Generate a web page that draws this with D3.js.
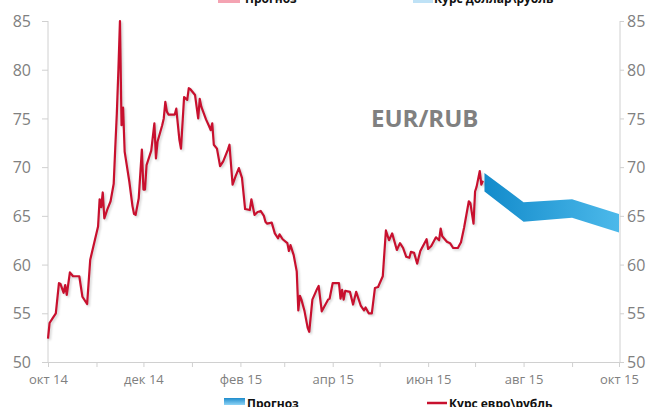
<!DOCTYPE html>
<html><head><meta charset="utf-8">
<script src="https://cdn.jsdelivr.net/npm/d3@7"></script>
<style>html,body{margin:0;padding:0;background:#fff;}svg{display:block;}</style>
</head><body>
<svg id="c" width="659" height="407"></svg>
<script>
// ---- data ----
const eurDates = ["2014-10-01","2014-10-02","2014-10-04","2014-10-06","2014-10-08","2014-10-09","2014-10-11","2014-10-12","2014-10-13","2014-10-15","2014-10-17","2014-10-21","2014-10-23","2014-10-26","2014-10-28","2014-11-02","2014-11-03","2014-11-04","2014-11-05","2014-11-06","2014-11-08","2014-11-10","2014-11-12","2014-11-13","2014-11-14","2014-11-15","2014-11-16","2014-11-17","2014-11-18","2014-11-19","2014-11-22","2014-11-24","2014-11-25","2014-11-26","2014-11-28","2014-11-30","2014-12-01","2014-12-02","2014-12-03","2014-12-06","2014-12-08","2014-12-09","2014-12-10","2014-12-13","2014-12-14","2014-12-15","2014-12-16","2014-12-17","2014-12-21","2014-12-22","2014-12-24","2014-12-25","2014-12-27","2014-12-29","2014-12-30","2014-12-31","2015-01-03","2015-01-05","2015-01-06","2015-01-07","2015-01-10","2015-01-12","2015-01-13","2015-01-14","2015-01-15","2015-01-17","2015-01-19","2015-01-21","2015-01-24","2015-01-25","2015-01-27","2015-01-29","2015-01-31","2015-02-02","2015-02-04","2015-02-07","2015-02-08","2015-02-10","2015-02-12","2015-02-14","2015-02-16","2015-02-17","2015-02-18","2015-02-21","2015-02-23","2015-02-25","2015-02-26","2015-02-28","2015-03-03","2015-03-04","2015-03-05","2015-03-07","2015-03-09","2015-03-10","2015-03-11","2015-03-12","2015-03-14","2015-03-16","2015-03-17","2015-03-19","2015-03-22","2015-03-23","2015-03-25","2015-03-29","2015-03-30","2015-04-01","2015-04-05","2015-04-06","2015-04-07","2015-04-08","2015-04-09","2015-04-12","2015-04-14","2015-04-16","2015-04-19","2015-04-21","2015-04-22","2015-04-24","2015-04-26","2015-04-28","2015-04-30","2015-05-03","2015-05-05","2015-05-07","2015-05-09","2015-05-12","2015-05-14","2015-05-16","2015-05-18","2015-05-20","2015-05-21","2015-05-23","2015-05-25","2015-05-27","2015-05-31","2015-06-01","2015-06-03","2015-06-06","2015-06-08","2015-06-09","2015-06-10","2015-06-13","2015-06-15","2015-06-17","2015-06-20","2015-06-22","2015-06-24","2015-06-27","2015-06-28","2015-06-30","2015-07-01","2015-07-02","2015-07-04","2015-07-05","2015-07-06"];
const eurValues = [52.4,54.0,54.5,55.0,58.1,58.0,57.1,57.9,56.9,59.2,58.8,58.8,56.7,55.95,60.5,63.9,66.7,65.9,67.4,64.75,65.7,66.5,68.3,72.0,75.5,80.0,85.0,74.3,76.1,71.6,68.5,66.0,65.2,65.1,66.8,71.8,67.7,67.7,70.2,71.7,74.5,70.9,72.6,74.3,75.0,76.7,75.7,75.4,75.4,76.0,72.8,71.9,77.2,76.9,78.1,78.0,77.4,75.0,77.0,76.2,74.9,74.2,73.8,74.5,72.3,71.9,70.1,70.6,71.8,72.3,68.2,69.1,69.9,68.9,65.7,65.6,66.7,65.1,65.4,65.5,65.0,64.4,64.2,64.3,63.2,62.7,63.1,62.6,62.2,61.4,62.0,61.0,59.3,55.3,56.8,56.4,55.2,53.5,53.1,56.4,57.5,57.8,55.2,56.4,56.5,58.1,58.1,56.5,57.4,56.4,57.3,57.2,55.9,57.2,55.75,55.3,55.6,55.0,55.0,57.6,57.7,58.8,63.5,62.5,63.2,61.5,62.2,61.7,60.8,60.7,61.3,61.2,60.1,61.4,62.6,61.6,61.9,62.8,62.5,63.7,62.9,62.35,62.2,61.7,61.7,62.3,63.8,66.5,66.3,64.2,67.5,68.0,69.6,68.2,68.6];
const fcDates = ["2015-07-07","2015-08-01","2015-09-01","2015-10-01"];
const fcHigh = [69.4,66.4,66.7,65.2];
const fcLow = [67.5,64.4,64.8,63.3];
const yTicks = [50,55,60,65,70,75,80,85];
const monthTicks = ["2014-10-01","2014-11-01","2014-12-01","2015-01-01","2015-02-01","2015-03-01","2015-04-01","2015-05-01","2015-06-01","2015-07-01","2015-08-01","2015-09-01","2015-10-01"];
const xLabels = ["окт 14","","дек 14","","фев 15","","апр 15","","июн 15","","авг 15","","окт 15"];
const title = "EUR/RUB";
const legendTop = ["Прогноз","Курс доллар\\рубль"];
const legendBottom = ["Прогноз","Курс евро\\рубль"];

// ---- chart ----
const parse = d3.timeParse("%Y-%m-%d");
const svg = d3.select("#c");
const font = "'Open Sans', sans-serif";
const grey = "#808080", axisCol = "#d0d0d0";
const x = d3.scaleTime().domain([parse("2014-10-01"), parse("2015-10-01")]).range([48, 619]);
const y = d3.scaleLinear().domain([50, 85]).range([362, 21]);
const xR = 620;

const defs = svg.append("defs");
const g1 = defs.append("linearGradient").attr("id","fc").attr("x1","0").attr("x2","1").attr("y1","0").attr("y2","0");
g1.append("stop").attr("offset","0").attr("stop-color","#138bcb");
g1.append("stop").attr("offset","1").attr("stop-color","#4cb9ea");
const g2 = defs.append("linearGradient").attr("id","sw").attr("x1","0").attr("x2","0").attr("y1","0").attr("y2","1");
g2.append("stop").attr("offset","0").attr("stop-color","#1e8ccc");
g2.append("stop").attr("offset","1").attr("stop-color","#8fd4f6");
const blur = defs.append("filter").attr("id","sh").attr("x","-5%").attr("y","-5%").attr("width","110%").attr("height","110%");
blur.append("feGaussianBlur").attr("stdDeviation","1");

// axes lines
svg.append("line").attr("x1",48).attr("x2",48).attr("y1",y(85)).attr("y2",y(50)).attr("stroke",axisCol);
svg.append("line").attr("x1",xR).attr("x2",xR).attr("y1",y(85)).attr("y2",y(50)).attr("stroke",axisCol);
svg.append("line").attr("x1",48).attr("x2",xR).attr("y1",y(50)+0.5).attr("y2",y(50)+0.5).attr("stroke",axisCol);

// left axis
const left = svg.append("g").attr("transform","translate(48,0)")
  .call(d3.axisLeft(y).tickValues(yTicks).tickSize(6).tickPadding(4));
left.select(".domain").remove();
left.selectAll("line").attr("stroke",axisCol);
left.selectAll("text").attr("fill",grey).style("font-family",font).style("font-size","16px").attr("dy","0.35em").attr("x",-17);
// right axis
const right = svg.append("g").attr("transform",`translate(${xR},0)`)
  .call(d3.axisRight(y).tickValues(yTicks).tickSize(4).tickPadding(4));
right.select(".domain").remove();
right.selectAll("line").attr("stroke",axisCol);
right.selectAll("text").attr("fill",grey).style("font-family",font).style("font-size","16px").attr("dy","0.35em").attr("x",7);
// bottom axis
const bottom = svg.append("g").attr("transform",`translate(0,${y(50)})`)
  .call(d3.axisBottom(x).tickValues(monthTicks.map(parse)).tickSize(5).tickPadding(8)
    .tickFormat((d,i)=>xLabels[i]));
bottom.select(".domain").remove();
bottom.selectAll("line").attr("stroke",axisCol);
bottom.selectAll("text").attr("fill",grey).style("font-family",font).style("font-size","13px");

// forecast band
const fc = fcDates.map((d,i)=>({d:parse(d),h:fcHigh[i],l:fcLow[i]}));
svg.append("path").datum(fc).attr("fill","url(#fc)")
  .attr("d", d3.area().x(d=>x(d.d)).y0(d=>y(d.l)).y1(d=>y(d.h)));

// eur line
const eur = eurDates.map((d,i)=>({d:parse(d),v:eurValues[i]}));
const lineGen = d3.line().x(d=>x(d.d)).y(d=>y(d.v));
svg.append("path").datum(eur).attr("fill","none").attr("stroke","#000").attr("stroke-opacity",0.18)
  .attr("stroke-width",2.2).attr("stroke-linejoin","round").attr("transform","translate(1.5,1.5)").attr("filter","url(#sh)").attr("d",lineGen);
svg.append("path").datum(eur).attr("fill","none").attr("stroke","#c8102e")
  .attr("stroke-width",2.2).attr("stroke-linejoin","round").attr("d",lineGen);

// title
svg.append("text").attr("x",371).attr("y",127).text(title)
  .attr("fill",grey).style("font-family",font).style("font-weight","bold").style("font-size","24px");

// top legend (cut off at the top edge, as in the reference)
svg.append("rect").attr("x",218).attr("y",-6).attr("width",22).attr("height",9).attr("fill","#f4a3b2");
svg.append("text").attr("x",245).attr("y",3).text(legendTop[0]).style("font-family",font).style("font-weight","bold").style("font-size","12px").attr("fill","#111");
svg.append("rect").attr("x",413).attr("y",-6).attr("width",20).attr("height",9).attr("fill","#bfe2f6");
svg.append("text").attr("x",434).attr("y",3).text(legendTop[1]).style("font-family",font).style("font-weight","bold").style("font-size","12px").attr("fill","#111");

// bottom legend
svg.append("rect").attr("x",224).attr("y",398).attr("width",21).attr("height",7).attr("fill","url(#sw)");
svg.append("text").attr("x",247).attr("y",408).text(legendBottom[0]).style("font-family",font).style("font-weight","bold").style("font-size","12px").attr("fill","#111");
svg.append("line").attr("x1",427).attr("x2",447).attr("y1",403).attr("y2",403).attr("stroke","#c8102e").attr("stroke-width",2.5);
svg.append("text").attr("x",449).attr("y",408).text(legendBottom[1]).style("font-family",font).style("font-weight","bold").style("font-size","12px").attr("fill","#111");
</script>
</body></html>
